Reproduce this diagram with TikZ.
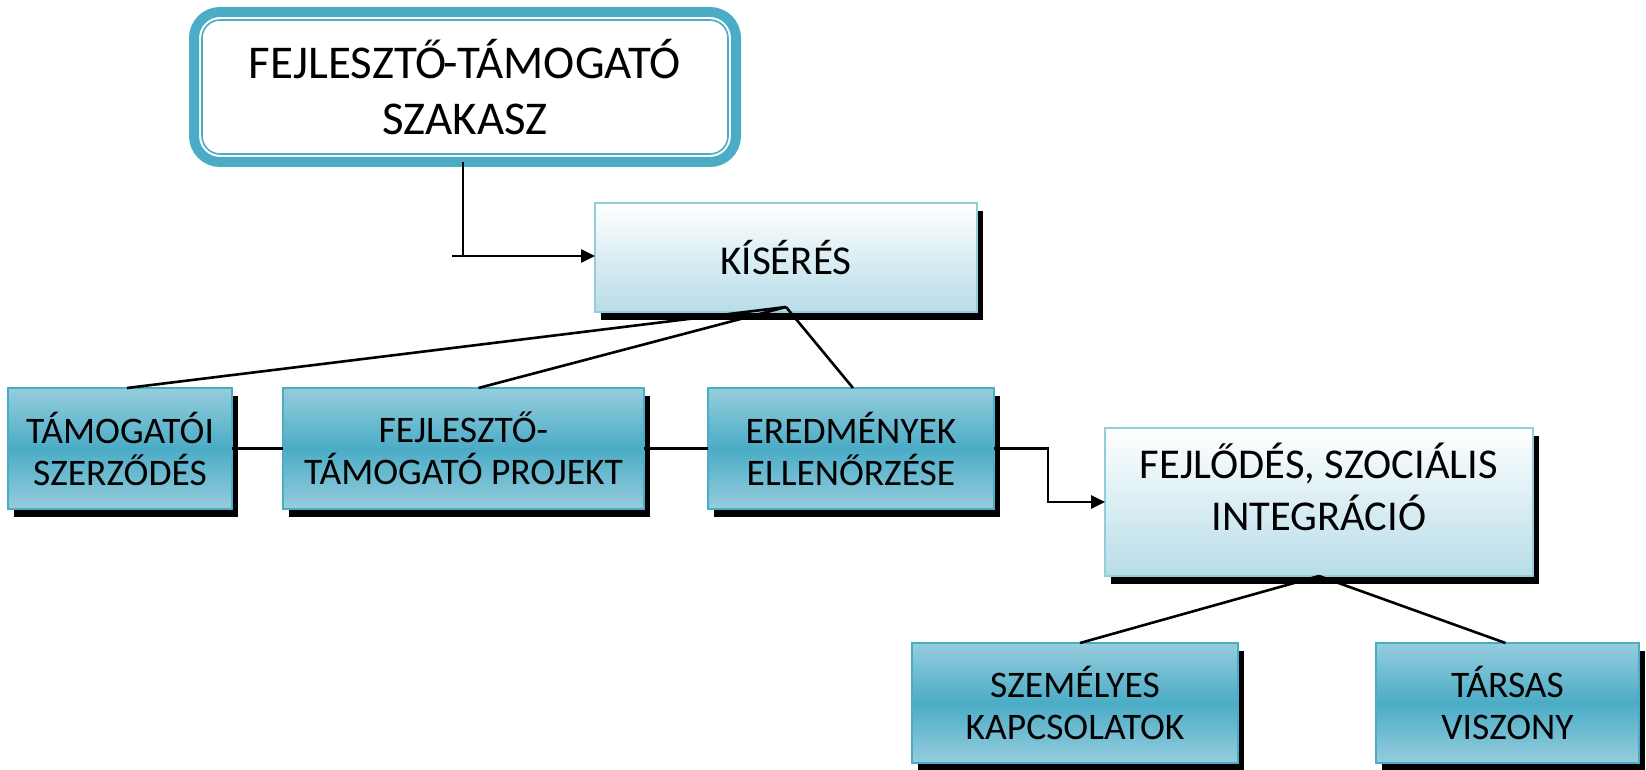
\documentclass[tikz,border=0pt]{standalone}
\usepackage{fontspec}
\setmainfont{Carlito}
\usetikzlibrary{arrows.meta,shadows}
\definecolor{aqua}{RGB}{75,172,198}
\definecolor{aqualight}{RGB}{150,205,221}
\definecolor{paleedge}{RGB}{146,205,220}
\definecolor{palebottom}{RGB}{183,221,232}
\begin{document}
\begin{tikzpicture}[x=1pt,y=-1pt,
  every node/.style={inner sep=0pt, outer sep=0pt, align=center, text=black},
  boxshadow/.style={general shadow={fill=black, shadow xshift=5.5pt, shadow yshift=-8pt}},
  darkbox/.style={boxshadow, draw=aqua, line width=2pt,
    top color=aqualight, bottom color=aqualight, middle color=aqua,
    font=\fontsize{37.5}{42}\selectfont},
  palebox/.style={boxshadow, draw=paleedge, line width=2.5pt,
    top color=white, bottom color=palebottom,
    font=\fontsize{41}{51}\selectfont},
  link/.style={draw=black, line width=2.6pt},
  arrow/.style={link, -{Triangle[length=14pt,width=13pt]}},
]
\fill[white] (0,0) rectangle (1646,770);
\useasboundingbox (0,0) rectangle (1646,770);

% stage title
\node[draw=aqua, line width=10pt, rounded corners=26pt, fill=white,
      minimum width=542pt, minimum height=150pt,
      font=\fontsize{47}{56}\selectfont] (top) at (465,87)
  {FEJLESZTŐ\kern-3pt-\kern-1pt TÁMOGATÓ\\SZAKASZ};
\draw[aqua, line width=1.6pt, rounded corners=18pt]
  ([shift={(8pt,-8pt)}]top.north west) rectangle ([shift={(-8pt,8pt)}]top.south east);

% boxes
\node[palebox, minimum width=382pt, minimum height=109pt] (kis) at (786,257.5) {KÍSÉRÉS};
\node[darkbox, minimum width=224pt, minimum height=121pt] (tam) at (120,448.5) {TÁMOGATÓI\\SZERZŐDÉS};
\node[darkbox, minimum width=361pt, minimum height=121pt] (proj) at (463.5,448.5) {FEJLESZTŐ-\\TÁMOGATÓ PROJEKT};
\node[darkbox, minimum width=286pt, minimum height=121pt] (ered) at (851,448.5) {EREDMÉNYEK\\ELLENŐRZÉSE};
\node[palebox, minimum width=428pt, minimum height=148pt, text depth=30pt,
      font=\fontsize{42.5}{52}\selectfont] (fejl) at (1319,502) {FEJLŐDÉS, SZOCIÁLIS\\INTEGRÁCIÓ};
\node[darkbox, minimum width=326pt, minimum height=120pt] (szem) at (1075,703) {SZEMÉLYES\\KAPCSOLATOK};
\node[darkbox, minimum width=263pt, minimum height=120pt] (tars) at (1507.5,703) {TÁRSAS\\VISZONY};

% connectors
\coordinate (stub) at (452,256);
\draw[link] ([xshift=-2pt]top.south) -- ([xshift=-2pt]top.south |- stub);
\draw[arrow] (stub) -- (stub -| kis.west);

\draw[link] ([yshift=5pt]kis.south) -- ([xshift=7pt]tam.north);
\draw[link] ([yshift=5pt]kis.south) -- ([xshift=15pt]proj.north);
\draw[link] ([yshift=5pt]kis.south) -- ([xshift=2pt]ered.north);

\draw[link] (tam.east) -- (proj.west);
\draw[link] (proj.east) -- (ered.west);
\draw[arrow] (ered.east) -- ++(54,0) |- (fejl.west);

\draw[link] (fejl.south) -- ([xshift=5pt]szem.north);
\draw[link] (fejl.south) -- ([xshift=-2pt]tars.north);
\end{tikzpicture}
\end{document}
